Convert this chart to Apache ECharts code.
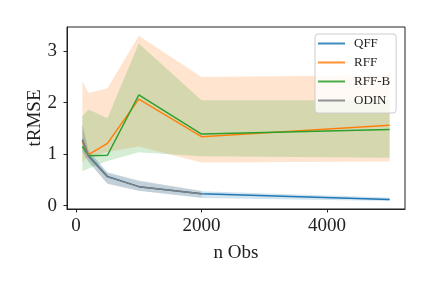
<!DOCTYPE html>
<html><head><meta charset="utf-8">
<script src="https://cdn.jsdelivr.net/npm/echarts@6/dist/echarts.min.js"></script>
<style>html,body{margin:0;padding:0;background:#fff}#c{width:432px;height:288px}</style>
</head><body><div id="c"></div>
<script>
const nObs = [100, 200, 500, 1000, 2000, 5000];
const odinObs = [100, 200, 500, 1000, 2000];
const xTicks = [0, 2000, 4000];
const yTicks = [0, 1, 2, 3];

const qffMean = [1.28, 0.97, 0.57, 0.37, 0.23, 0.12];
const qffLow  = [1.05, 0.85, 0.43, 0.29, 0.15, 0.09];
const qffHigh = [1.57, 1.07, 0.64, 0.48, 0.28, 0.16];

const rffMean = [1.24, 0.99, 1.21, 2.07, 1.34, 1.56];
const rffLow  = [0.85, 0.95, 1.05, 1.15, 0.84, 0.86];
const rffHigh = [2.41, 2.19, 2.28, 3.30, 2.50, 2.54];

const rffbMean = [1.15, 0.97, 0.98, 2.15, 1.39, 1.48];
const rffbLow  = [0.67, 0.72, 0.87, 1.04, 0.96, 0.93];
const rffbHigh = [1.74, 1.87, 1.70, 3.15, 2.05, 2.05];

const odinMean = [1.28, 0.95, 0.56, 0.37, 0.23];
const odinLow  = [1.05, 0.85, 0.42, 0.29, 0.16];
const odinHigh = [1.57, 1.05, 0.65, 0.49, 0.29];

const names = ['QFF', 'RFF', 'RFF-B', 'ODIN'];
const colors = ['#1f77b4', '#ff7f0e', '#2ca02c', '#7f7f7f'];

function pairs(xs, ys) { return xs.map((x, i) => [x, ys[i]]); }

const groups = [
  [nObs, qffMean, qffLow, qffHigh],
  [nObs, rffMean, rffLow, rffHigh],
  [nObs, rffbMean, rffbLow, rffbHigh],
  [odinObs, odinMean, odinLow, odinHigh]
];

const series = [];
groups.forEach((g, k) => {
  const [xs, m, lo, hi] = g;
  series.push({
    type: 'custom', silent: true, z: 1, animation: false,
    data: [[xs[0], lo[0]]],
    renderItem: function (params, api) {
      const pts = [];
      for (let i = 0; i < xs.length; i++) pts.push(api.coord([xs[i], hi[i]]));
      for (let i = xs.length - 1; i >= 0; i--) pts.push(api.coord([xs[i], lo[i]]));
      return {
        type: 'polygon',
        shape: { points: pts },
        style: { fill: colors[k], opacity: 0.2, stroke: 'none' }
      };
    }
  });
});
groups.forEach((g, k) => {
  const [xs, m] = g;
  series.push({
    name: names[k], type: 'line', data: pairs(xs, m), symbol: 'none',
    lineStyle: { color: colors[k], width: 1.5 }, itemStyle: { color: colors[k] }, z: 3, animation: false
  });
});

const font = 'Liberation Serif';
const chart = echarts.init(document.getElementById('c'), null, { renderer: 'canvas' });
chart.setOption({
  animation: false,
  grid: { left: 67, right: 27, top: 27, bottom: 79, show: true, borderColor: '#222', borderWidth: 1, backgroundColor: 'transparent' },
  xAxis: {
    type: 'value', min: -145, max: 5245, position: 'bottom',
    name: 'n Obs', nameLocation: 'middle', nameGap: 35, nameMoveOverlap: false,
    nameTextStyle: { fontFamily: font, fontSize: 19, color: '#222' },
    axisLine: { show: true, onZero: false, lineStyle: { color: '#222', width: 1 } },
    splitLine: { show: false },
    axisTick: { show: true, inside: false, length: 3.5, lineStyle: { color: '#222' }, customValues: xTicks },
    axisLabel: { fontFamily: font, fontSize: 19, color: '#222', margin: 8, customValues: xTicks, formatter: v => String(v) }
  },
  yAxis: {
    type: 'value', min: -0.064, max: 3.47, position: 'left',
    name: 'tRMSE', nameLocation: 'middle', nameGap: 22, nameMoveOverlap: false,
    nameTextStyle: { fontFamily: font, fontSize: 19, color: '#222' },
    axisLine: { show: true, onZero: false, lineStyle: { color: '#222', width: 1 } },
    splitLine: { show: false },
    axisTick: { show: true, inside: false, length: 3.5, lineStyle: { color: '#222' }, customValues: yTicks },
    axisLabel: { fontFamily: font, fontSize: 19, color: '#222', margin: 10, customValues: yTicks, formatter: v => String(v) }
  },
  legend: {
    data: names.map((n, i) => ({ name: n, icon: 'rect', itemStyle: { color: colors[i], opacity: 0.85 } })),
    orient: 'vertical', left: 315, top: 34,
    itemWidth: 27, itemHeight: 2, itemGap: 6,
    padding: [3, 6, 6, 3],
    backgroundColor: 'rgba(255,255,255,0.8)', borderColor: '#ccc', borderWidth: 1, borderRadius: 3,
    textStyle: { fontFamily: font, fontSize: 13, color: '#222', padding: [0, 0, 0, 4] }
  },
  series: series
});
</script></body></html>
